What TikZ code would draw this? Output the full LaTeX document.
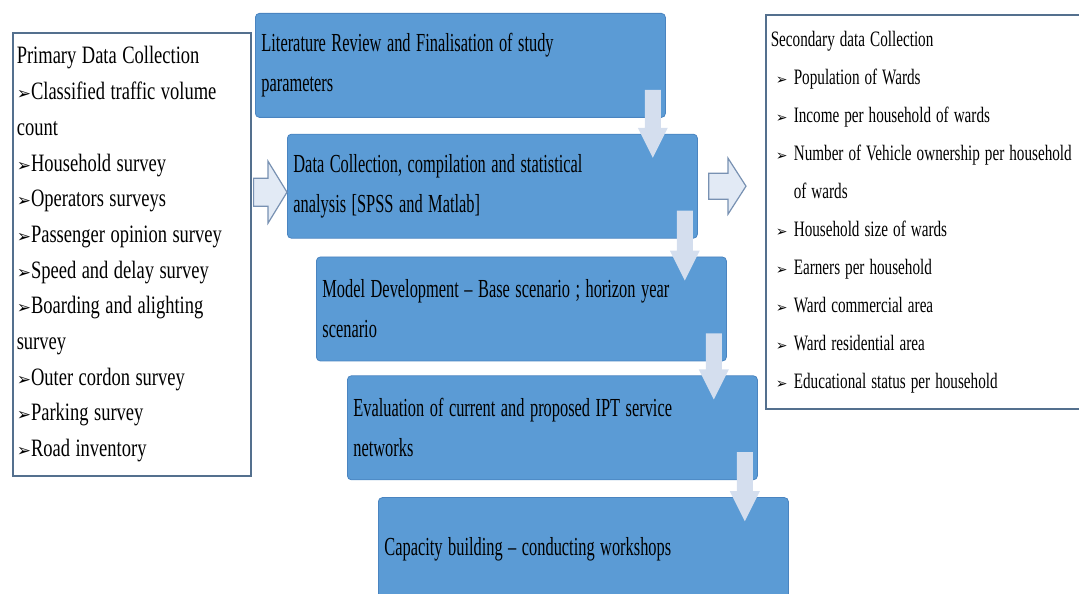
\documentclass[tikz,border=0pt]{standalone}
\usepackage{fontspec}
\usepackage{xcolor}
\usepackage{tikz}
\usetikzlibrary{calc,positioning}
\newfontfamily\stagefont[FakeStretch=0.63]{Liberation Serif}
\newfontfamily\primfont[FakeStretch=0.74]{Liberation Serif}
\newfontfamily\secfont[FakeStretch=0.69]{Liberation Serif}
\newfontfamily\bulletfont{DejaVu Sans}
\definecolor{stageblue}{RGB}{91,155,213}
\definecolor{stageedge}{RGB}{74,132,192}
\definecolor{palearrow}{RGB}{212,222,238}
\definecolor{framegray}{RGB}{84,112,142}
\definecolor{hollowfill}{RGB}{226,234,245}
\definecolor{hollowedge}{RGB}{120,145,178}
\hyphenpenalty=10000
\exhyphenpenalty=10000
\newcommand{\pbul}{{\bulletfont\fontsize{17}{17}\selectfont ➢}}
\newcommand{\sbul}{\makebox[23pt][l]{\hspace{5pt}{\bulletfont\fontsize{14}{14}\selectfont ➢}}}

\begin{document}
\begin{tikzpicture}[x=1pt,y=1pt,
  stagebox/.style={draw=stageedge, fill=stageblue, rounded corners=4pt, line width=0.8pt,
    minimum width=410pt, minimum height=104pt, text width=398pt, inner xsep=6pt,
    align=flush left, font={\stagefont\fontsize{26}{40}\selectfont\spaceskip=5.5pt plus 1pt}},
  listbox/.style={draw=framegray, line width=1.6pt, fill=white, align=flush left, anchor=north west},
  downarrow/.style={fill=palearrow},
  hollowarrow/.style={draw=hollowedge, fill=hollowfill, line width=1.2pt}]
\useasboundingbox (0,0) rectangle (1079,594);

% Primary data box
\node[listbox, minimum width=238pt, minimum height=443pt, text width=230pt, inner xsep=4pt,
  font={\primfont\fontsize{25}{35.7}\selectfont\spaceskip=5.5pt plus 1pt}] (prim) at (12,562) {Primary Data Collection\\
\pbul Classified traffic volume\\
count\\
\pbul Household survey\\
\pbul Operators surveys\\
\pbul Passenger opinion survey\\
\pbul Speed and delay survey\\
\pbul Boarding and alighting\\
survey\\
\pbul Outer cordon survey\\
\pbul Parking survey\\
\pbul Road inventory};

% Secondary data box
\node[listbox, minimum width=328pt, minimum height=394pt, text width=318pt, inner xsep=5pt,
  font={\secfont\fontsize{22}{38}\selectfont\spaceskip=5pt plus 1pt}] (sec) at (765,580) {Secondary data Collection\\
\sbul Population of Wards\\
\sbul Income per household of wards\\
\sbul Number of Vehicle ownership per household\\
\hspace*{23pt}of wards\\
\sbul Household size of wards\\
\sbul Earners per household\\
\sbul Ward commercial area\\
\sbul Ward residential area\\
\sbul Educational status per household};

% Stages
\node[stagebox, anchor=north west] (b1) at (255,581) {Literature Review and Finalisation of study\\parameters};
\node[stagebox, below right=16pt and 32pt of b1.south west] (b2) {Data Collection, compilation and statistical\\analysis [SPSS and Matlab]};
\node[stagebox, below right=18pt and 29pt of b2.south west] (b3) {Model Development – Base scenario ; horizon year\\scenario};
\node[stagebox, below right=14pt and 31pt of b3.south west] (b4) {Evaluation of current and proposed IPT service\\networks};
\node[stagebox, below right=17pt and 31pt of b4.south west] (b5) {Capacity building – conducting workshops};

% Down arrows between stages
\foreach \a/\b in {b1/b2,b2/b3,b3/b4,b4/b5}
  \fill[downarrow] let \p1=(\a.south east), \p2=(\b.north) in
    (\x1-21,\y1+28) -- (\x1-5,\y1+28) -- (\x1-5,\y2+6) -- (\x1+2,\y2+6)
    -- (\x1-13,\y2-24) -- (\x1-28,\y2+6) -- (\x1-21,\y2+6) -- cycle;

% Hollow arrows
\draw[hollowarrow] let \p1=(prim.east), \p2=(b2.west) in
  (\x1+2,\y2-20) -- (\x2-19,\y2-20) -- (\x2-19,\y2-37) -- (\x2,\y2-6)
  -- (\x2-19,\y2+25) -- (\x2-19,\y2+8) -- (\x1+2,\y2+8) -- cycle;
\draw[hollowarrow] let \p1=(b2.east), \p2=(sec.west) in
  (\x1+11,\y1-13) -- (\x2-37,\y1-13) -- (\x2-37,\y1-28) -- (\x2-19,\y1)
  -- (\x2-37,\y1+28) -- (\x2-37,\y1+13) -- (\x1+11,\y1+13) -- cycle;
\end{tikzpicture}
\end{document}
